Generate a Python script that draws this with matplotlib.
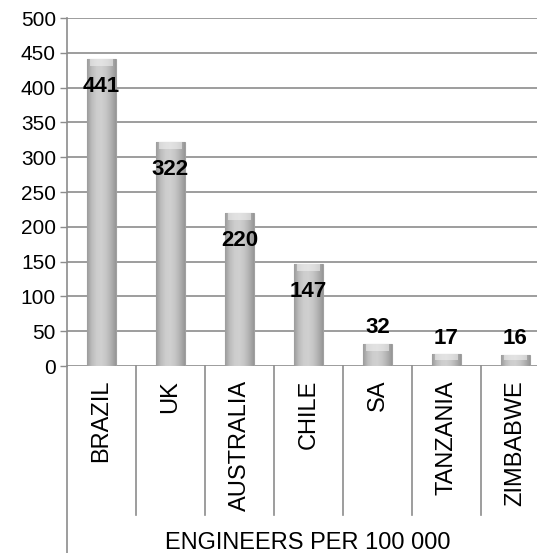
import numpy as np
import matplotlib.pyplot as plt
from matplotlib.lines import Line2D
from matplotlib.colors import LinearSegmentedColormap

plt.rcParams['font.family'] = ['Liberation Sans', 'DejaVu Sans']

countries = ["BRAZIL", "UK", "AUSTRALIA", "CHILE", "SA", "TANZANIA", "ZIMBABWE"]
engineers = [441, 322, 220, 147, 32, 17, 16]
y_ticks = [0, 50, 100, 150, 200, 250, 300, 350, 400, 450, 500]

W, H = 537, 553
fig = plt.figure(figsize=(W / 100, H / 100), dpi=100, facecolor="white")
# plot area runs a bit past the right edge of the picture, as in the original
ax = fig.add_axes([67 / W, (H - 366) / H, (550 - 67) / W, 348 / H])

grid_color = "#8c8c8c"
x = np.arange(len(countries))
bar_w = 0.41
bars = ax.bar(x, engineers, width=bar_w, color="#c4c4c4", edgecolor="#a0a0a0",
              linewidth=0.8, zorder=3)

# soft cylinder-like shading on each bar
shade = LinearSegmentedColormap.from_list(
    "shade", ["#9c9c9c", "#bdbdbd", "#cdcdcd", "#d0d0d0", "#c6c6c6", "#b2b2b2", "#979797"])
grad = np.linspace(0, 1, 64).reshape(1, -1)
for b in bars:
    x0, w, h = b.get_x(), b.get_width(), b.get_height()
    im = ax.imshow(grad, cmap=shade, aspect="auto", zorder=3.5,
                   extent=(x0, x0 + w, 0, h), origin="lower")
    im.set_clip_path(b)
    # light bevel at the top
    cap = min(10, h * 0.5)
    ax.fill_between([x0 + w * 0.1, x0 + w * 0.9], h - cap, h,
                    color="#efefef", alpha=0.6, lw=0, zorder=3.6)

ax.set_xlim(-0.5, len(countries) - 0.5)
ax.set_ylim(0, 500)
ax.set_yticks(y_ticks)
ax.tick_params(axis="y", labelsize=15, length=5, width=1, color=grid_color,
               pad=3, labelcolor="black")
ax.set_xticks([])
ax.grid(axis="y", color=grid_color, linewidth=1.2, zorder=0)
ax.set_axisbelow(True)
for s in ["top", "right", "bottom"]:
    ax.spines[s].set_visible(False)
ax.spines["left"].set_color(grid_color)
ax.spines["left"].set_linewidth(1.2)

# bar value labels: inside the top for tall bars, above for short ones
for xi, v in zip(x, engineers):
    if v > 100:
        ax.annotate(str(v), (xi, v), xytext=(0, -20), textcoords="offset points",
                    ha="center", va="center", fontsize=16, fontweight="bold", zorder=5)
    else:
        ax.annotate(str(v), (xi, v), xytext=(0, 4), textcoords="offset points",
                    ha="center", va="bottom", fontsize=16, fontweight="bold", zorder=5)

# separators below the axis between categories
sep_bottom = (H - 515) / H
y_sep = (fig.transFigure + ax.transAxes.inverted()).transform((0, sep_bottom))[1]
for i in range(1, len(countries) + 1):
    xb = i / len(countries)
    ax.plot([xb, xb], [0, y_sep], transform=ax.transAxes, color=grid_color,
            lw=1.2, clip_on=False)
for xi, name in zip(x, countries):
    ax.annotate(name, (xi, 0), xytext=(0, -10), textcoords="offset points",
                ha="center", va="top", rotation=90, fontsize=17)

# left axis line carried down to the bottom of the picture
fig.add_artist(Line2D([67 / W, 67 / W], [0, (H - 366) / H], color=grid_color,
                      lw=1.2, transform=fig.transFigure))

fig.text(308 / W, (H - 543) / H, "ENGINEERS PER 100 000", ha="center",
         va="center", fontsize=17)

fig.savefig("out.png", dpi=100, facecolor="white")
